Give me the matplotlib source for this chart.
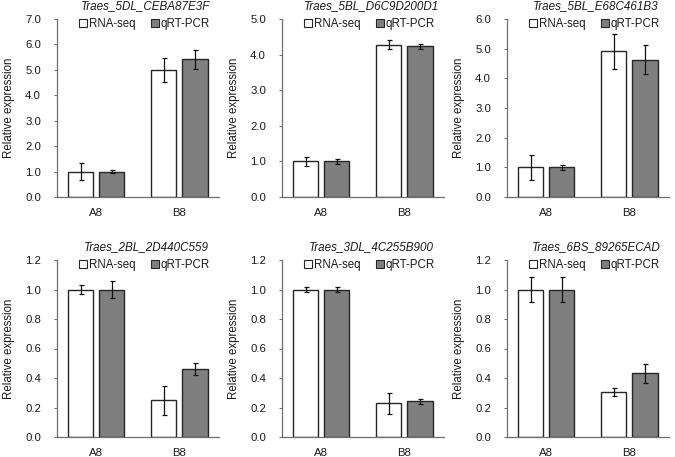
import matplotlib
matplotlib.use("Agg")
import matplotlib.pyplot as plt
from matplotlib.patches import Patch
from matplotlib.ticker import MultipleLocator, FormatStrFormatter
import numpy as np

plt.rcParams['font.family'] = ['Liberation Sans', 'DejaVu Sans']

categories = ['A8', 'B8']
titles = ['Traes_5DL_CEBA87E3F', 'Traes_5BL_D6C9D200D1', 'Traes_5BL_E68C461B3',
          'Traes_2BL_2D440C559', 'Traes_3DL_4C255B900', 'Traes_6BS_89265ECAD']
series_names = ['RNA-seq', 'qRT-PCR']
rna_vals = [[1.0, 5.0], [1.0, 4.28], [1.0, 4.91], [1.0, 0.248], [1.0, 0.228], [1.0, 0.305]]
rna_err = [[0.34, 0.47], [0.13, 0.13], [0.42, 0.58], [0.032, 0.10], [0.018, 0.072], [0.085, 0.03]]
qpcr_vals = [[1.0, 5.42], [1.0, 4.23], [1.0, 4.63], [1.0, 0.463], [1.0, 0.242], [1.0, 0.431]]
qpcr_err = [[0.07, 0.375], [0.06, 0.075], [0.09, 0.49], [0.056, 0.04], [0.02, 0.017], [0.086, 0.062]]
ymax = [7.0, 5.0, 6.0, 1.2, 1.2, 1.2]
ystep = [1.0, 1.0, 1.0, 0.2, 0.2, 0.2]

W, H = 675, 457
fig = plt.figure(figsize=(W / 100, H / 100), dpi=100)

lefts = [57, 282, 507]
axw = 162
rows = [(19, 197), (260, 437)]

text_color = '#1a1a1a'
axis_color = '#6e6e6e'
gray = '#7f7f7f'
edge = '#262626'

x = np.arange(len(categories))
bw = 0.31
off = 0.187

for i in range(6):
    r, c = divmod(i, 3)
    top, bot = rows[r]
    ax = fig.add_axes([lefts[c] / W, 1 - bot / H, axw / W, (bot - top) / H])
    ax.bar(x - off, rna_vals[i], bw, color='white', edgecolor=edge, linewidth=1.0,
           yerr=rna_err[i], capsize=1.8, error_kw=dict(elinewidth=0.9, capthick=0.9, ecolor='#111111'),
           zorder=2)
    ax.bar(x + off, qpcr_vals[i], bw, color=gray, edgecolor=edge, linewidth=1.0,
           yerr=qpcr_err[i], capsize=1.8, error_kw=dict(elinewidth=0.9, capthick=0.9, ecolor='#111111'),
           zorder=2)
    ax.set_xlim(-0.47, 1.48)
    ax.set_ylim(0, ymax[i])
    ax.yaxis.set_major_locator(MultipleLocator(ystep[i]))
    ax.yaxis.set_major_formatter(FormatStrFormatter('%.1f'))
    ax.set_xticks(x)
    ax.set_xticklabels(categories)
    for s in ['top', 'right']:
        ax.spines[s].set_visible(False)
    for s in ['left', 'bottom']:
        ax.spines[s].set_color(axis_color)
        ax.spines[s].set_linewidth(0.9)
    ax.tick_params(axis='y', length=2.5, width=0.8, color=axis_color, pad=9,
                   labelsize=8.2, labelcolor=text_color)
    ax.tick_params(axis='x', length=0, pad=8, labelsize=8.2, labelcolor=text_color)
    ax.set_ylabel('Relative expression', fontsize=8.3, color=text_color)
    ax.yaxis.set_label_coords(-0.262, 0.5)
    ax.text(0.55, 1.075, titles[i], transform=ax.transAxes, ha='center', va='center',
            fontsize=8.4, style='italic', color=text_color)
    handles = [Patch(facecolor='white', edgecolor=edge, linewidth=0.8),
               Patch(facecolor=gray, edgecolor=edge, linewidth=0.8)]
    ax.legend(handles, series_names, loc='center', bbox_to_anchor=(0.54, 0.97), ncol=2,
              frameon=False, fontsize=8.3, handlelength=0.7, handleheight=0.7,
              handletextpad=0.15, columnspacing=1.3, borderaxespad=0, borderpad=0,
              labelcolor=text_color)

fig.savefig('out.png', dpi=100)
